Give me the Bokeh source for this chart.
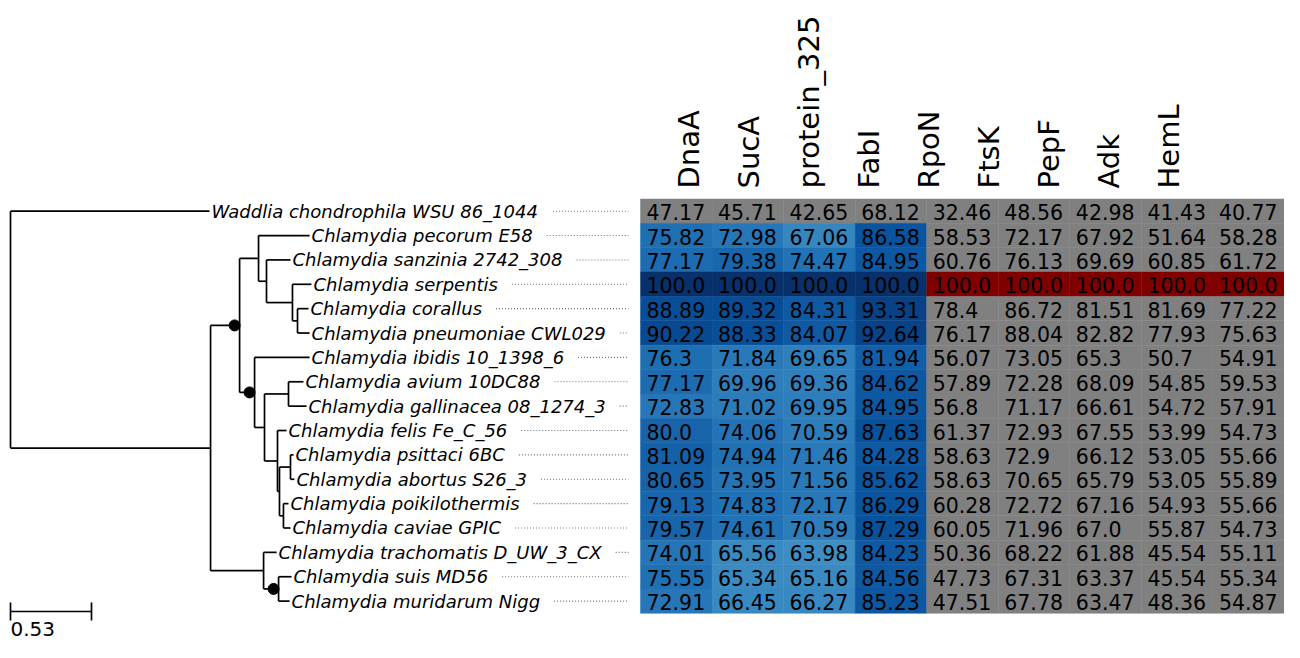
import math
from bokeh.plotting import figure
from bokeh.models import Range1d
from bokeh.embed import file_html
from bokeh.resources import INLINE
from bokeh.core.properties import value

# ---------------- data ----------------
genes = ["DnaA", "SucA", "protein_325", "FabI", "RpoN", "FtsK", "PepF", "Adk", "HemL"]

taxa = [
    "Waddlia chondrophila WSU 86_1044",
    "Chlamydia pecorum E58",
    "Chlamydia sanzinia 2742_308",
    "Chlamydia serpentis",
    "Chlamydia corallus",
    "Chlamydia pneumoniae CWL029",
    "Chlamydia ibidis 10_1398_6",
    "Chlamydia avium 10DC88",
    "Chlamydia gallinacea 08_1274_3",
    "Chlamydia felis Fe_C_56",
    "Chlamydia psittaci 6BC",
    "Chlamydia abortus S26_3",
    "Chlamydia poikilothermis",
    "Chlamydia caviae GPIC",
    "Chlamydia trachomatis D_UW_3_CX",
    "Chlamydia suis MD56",
    "Chlamydia muridarum Nigg",
]

DnaA = [47.17, 75.82, 77.17, 100.0, 88.89, 90.22, 76.3, 77.17, 72.83, 80.0, 81.09, 80.65, 79.13, 79.57, 74.01, 75.55, 72.91]
SucA = [45.71, 72.98, 79.38, 100.0, 89.32, 88.33, 71.84, 69.96, 71.02, 74.06, 74.94, 73.95, 74.83, 74.61, 65.56, 65.34, 66.45]
protein_325 = [42.65, 67.06, 74.47, 100.0, 84.31, 84.07, 69.65, 69.36, 69.95, 70.59, 71.46, 71.56, 72.17, 70.59, 63.98, 65.16, 66.27]
FabI = [68.12, 86.58, 84.95, 100.0, 93.31, 92.64, 81.94, 84.62, 84.95, 87.63, 84.28, 85.62, 86.29, 87.29, 84.23, 84.56, 85.23]
RpoN = [32.46, 58.53, 60.76, 100.0, 78.4, 76.17, 56.07, 57.89, 56.8, 61.37, 58.63, 58.63, 60.28, 60.05, 50.36, 47.73, 47.51]
FtsK = [48.56, 72.17, 76.13, 100.0, 86.72, 88.04, 73.05, 72.28, 71.17, 72.93, 72.9, 70.65, 72.72, 71.96, 68.22, 67.31, 67.78]
PepF = [42.98, 67.92, 69.69, 100.0, 81.51, 82.82, 65.3, 68.09, 66.61, 67.55, 66.12, 65.79, 67.16, 67.0, 61.88, 63.37, 63.47]
Adk = [41.43, 51.64, 60.85, 100.0, 81.69, 77.93, 50.7, 54.85, 54.72, 53.99, 53.05, 53.05, 54.93, 55.87, 45.54, 45.54, 48.36]
HemL = [40.77, 58.28, 61.72, 100.0, 77.22, 75.63, 54.91, 59.53, 57.91, 54.73, 55.66, 55.89, 55.66, 54.73, 55.11, 55.34, 54.87]
columns = [DnaA, SucA, protein_325, FabI, RpoN, FtsK, PepF, Adk, HemL]

# tree: (name, branch length, children)
tree = ("root", 0.0, [
    (taxa[0], 1.302, []),
    ("nA", 1.309, [
        ("nB", 0.190, [
            ("nC1", 0.124, [
                (taxa[1], 0.334, []),
                ("nE", 0.052, [
                    (taxa[2], 0.157, []),
                    ("nF", 0.170, [
                        (taxa[3], 0.124, []),
                        ("nG", 0.033, [
                            (taxa[4], 0.072, []),
                            (taxa[5], 0.079, []),
                        ]),
                    ]),
                ]),
            ]),
            ("nC2", 0.098, [
                (taxa[6], 0.360, []),
                ("nD", 0.065, [
                    ("nH", 0.157, [
                        (taxa[7], 0.098, []),
                        (taxa[8], 0.118, []),
                    ]),
                    ("nI", 0.085, [
                        (taxa[9], 0.059, []),
                        ("nJ", 0.013, [
                            ("nK", 0.072, [
                                (taxa[10], 0.020, []),
                                (taxa[11], 0.026, []),
                            ]),
                            ("nL", 0.026, [
                                (taxa[12], 0.033, []),
                                (taxa[13], 0.046, []),
                            ]),
                        ]),
                    ]),
                ]),
            ]),
        ]),
        ("nM", 0.347, [
            (taxa[14], 0.085, []),
            ("nN", 0.098, [
                (taxa[15], 0.085, []),
                (taxa[16], 0.072, []),
            ]),
        ]),
    ]),
])
supported = ["nB", "nC2", "nN"]
scale_value = 0.53

# ---------------- layout / style ----------------
FIG_W, FIG_H = 1284, 642
PX_PER_UNIT = 81.0 / 0.53
ROOT_X = 10.0
ROW_TOP = 198.5
ROW_H = 24.37
HM_LEFT = 640.0
HM_RIGHT = 1284.0
COL_W = (HM_RIGHT - HM_LEFT) / len(genes)
LEADER_END = 628.0
HDR_X0 = 688.0
HDR_STEP = 60.0
HDR_Y = 188.0
LABEL_FS = "18px"
NUM_FS = "20.5px"
HDR_FS = "29px"
FONT = "DejaVu Sans"
SB_Y = 611.0

GRAY = "#808080"
RED = "#800000"
BLUES = [(247, 251, 255), (222, 235, 247), (198, 219, 239), (158, 202, 225), (107, 174, 214),
         (66, 146, 198), (33, 113, 181), (8, 81, 156), (8, 48, 107)]


def blues(t):
    t = max(0.0, min(1.0, t))
    pos = t * (len(BLUES) - 1)
    i = min(int(pos), len(BLUES) - 2)
    f = pos - i
    c = [round(BLUES[i][k] + (BLUES[i + 1][k] - BLUES[i][k]) * f) for k in range(3)]
    return "#%02x%02x%02x" % tuple(c)


# DejaVu Sans advance widths (units per em = 2048)
W = {' ': 651, '_': 1024, '.': 651, 'A': 1401, 'C': 1430, 'D': 1577, 'E': 1294, 'F': 1178,
     'G': 1587, 'I': 604, 'L': 1141, 'M': 1767, 'N': 1532, 'P': 1235, 'S': 1300, 'U': 1499,
     'W': 2025, 'X': 1403, 'B': 1405, 'R': 1423, 'T': 1251,
     'a': 1255, 'b': 1300, 'c': 1126, 'd': 1300, 'e': 1260, 'f': 721, 'g': 1300, 'h': 1298,
     'i': 569, 'j': 569, 'k': 1186, 'l': 569, 'm': 1995, 'n': 1298, 'o': 1253, 'p': 1300,
     'q': 1300, 'r': 842, 's': 1067, 't': 803, 'u': 1298, 'v': 1212, 'w': 1675, 'x': 1212,
     'y': 1212, 'z': 1075}
for d in "0123456789":
    W[d] = 1303


def text_width(s, fs_px):
    return sum(W.get(ch, 1200) for ch in s) * fs_px / 2048.0


# ---------------- tree layout ----------------
row_of = {name: i for i, name in enumerate(taxa)}
hx0, hx1, hy = [], [], []
vx, vy0, vy1 = [], [], []
leaf_x, leaf_y, leaf_name = [], [], []
dot_x, dot_y = [], []


def layout(node, parent_x):
    name, bl, children = node
    x = parent_x + bl * PX_PER_UNIT
    if not children:
        y = ROW_TOP + (row_of[name] + 0.5) * ROW_H
        leaf_x.append(x)
        leaf_y.append(y)
        leaf_name.append(name)
    else:
        ys = [layout(c, x) for c in children]
        y = (ys[0] + ys[-1]) / 2.0
        vx.append(x)
        vy0.append(ys[0])
        vy1.append(ys[-1])
    if name != "root":
        hx0.append(parent_x)
        hx1.append(x)
        hy.append(y)
    if name in supported:
        dot_x.append(x - 5)
        dot_y.append(y)
    return y


layout(tree, ROOT_X)

# ---------------- figure ----------------
p = figure(width=FIG_W, height=FIG_H, x_range=Range1d(0, FIG_W), y_range=Range1d(FIG_H, 0),
           output_backend="svg", toolbar_location=None, min_border=0)
p.axis.visible = False
p.grid.visible = False
p.outline_line_color = None
p.background_fill_color = "white"
p.border_fill_color = "white"

# heatmap cells
cl, cr, ct, cb, cc, tx, ty, tt = [], [], [], [], [], [], [], []
for j, col in enumerate(columns):
    for i, v in enumerate(col):
        left = HM_LEFT + j * COL_W
        top = ROW_TOP + i * ROW_H
        cl.append(left)
        cr.append(left + COL_W)
        ct.append(top)
        cb.append(top + ROW_H)
        if j < 4:
            color = GRAY if i == 0 else blues(v / 100.0)
        else:
            color = RED if v >= 100.0 else GRAY
        cc.append(color)
        tx.append(left + 6)
        ty.append(top + ROW_H / 2 + 1)
        tt.append(str(v))
p.quad(left=cl, right=cr, top=ct, bottom=cb, fill_color=cc, line_color=cc, line_width=0.5)
p.text(x=tx, y=ty, text=tt, text_font=value(FONT), text_font_size=NUM_FS,
       text_color="black", text_align="left", text_baseline="middle")

# headers
hdr_x = [HDR_X0 + k * HDR_STEP for k in range(len(genes))]
p.text(x=hdr_x, y=[HDR_Y] * len(genes), text=genes, angle=math.pi / 2,
       text_font=value(FONT), text_font_size=HDR_FS, text_color="black",
       text_align="left", text_baseline="middle")

# tree lines
p.segment(x0=hx0, y0=hy, x1=hx1, y1=hy, line_color="black", line_width=1.7)
p.segment(x0=vx, y0=vy0, x1=vx, y1=vy1, line_color="black", line_width=1.7)
p.scatter(x=dot_x, y=dot_y, size=11, marker="circle", fill_color="black", line_color="black")

# leaf labels
lab_x = [x + 2 for x in leaf_x]
p.text(x=lab_x, y=leaf_y, text=leaf_name, text_font=value(FONT), text_font_style="italic",
       text_font_size=LABEL_FS, text_color="black", text_align="left",
       text_baseline="middle")

# dotted leaders
label_px = float(LABEL_FS.replace("px", ""))
lx0, lx1, ly = [], [], []
for x, y, n in zip(lab_x, leaf_y, leaf_name):
    start = x + text_width(n, label_px) + 14
    if start < LEADER_END:
        lx0.append(start)
        lx1.append(LEADER_END)
        ly.append(y)
p.segment(x0=lx0, y0=ly, x1=lx1, y1=ly, line_color="#707070", line_width=1.1, line_dash="1 2")

# scale bar
sb_x1 = ROOT_X + scale_value * PX_PER_UNIT
p.segment(x0=[ROOT_X, ROOT_X, sb_x1], y0=[SB_Y, SB_Y - 9, SB_Y - 9], x1=[sb_x1, ROOT_X, sb_x1],
          y1=[SB_Y, SB_Y + 9, SB_Y + 9], line_color="black", line_width=1.7)
p.text(x=[ROOT_X], y=[SB_Y + 10], text=[str(scale_value)], text_font=value(FONT),
       text_font_size="20px", text_color="black", text_align="left", text_baseline="top")

open("out.html", "w").write(file_html(p, INLINE))
